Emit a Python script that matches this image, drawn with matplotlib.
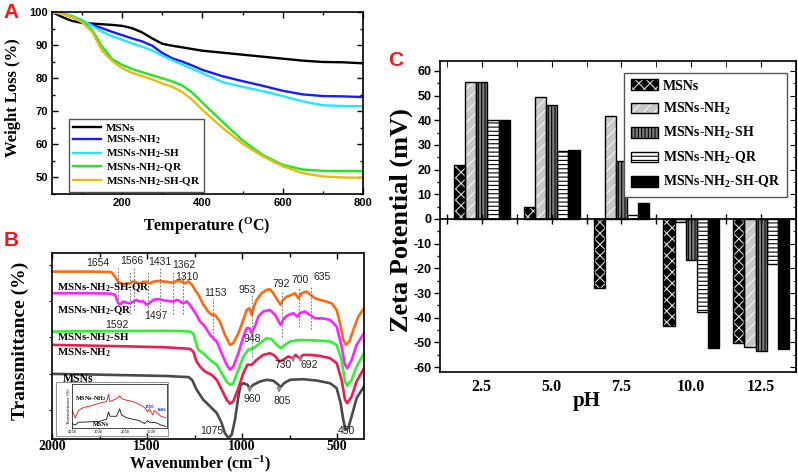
import numpy as np
import matplotlib
matplotlib.use("Agg")
import matplotlib.pyplot as plt
from matplotlib.patches import Patch, Rectangle
from matplotlib.ticker import MultipleLocator
from matplotlib.font_manager import FontProperties

plt.rcParams["mathtext.fontset"] = "custom"
plt.rcParams["mathtext.rm"] = "Liberation Serif:bold"
plt.rcParams["mathtext.it"] = "Liberation Serif:bold:italic"
plt.rcParams["mathtext.bf"] = "Liberation Serif:bold"
plt.rcParams["hatch.linewidth"] = 0.8
plt.rcParams["axes.unicode_minus"] = False

SERIF = "Liberation Serif"
SANS = "Liberation Sans"
LETTER_RED = "#f01818"

# ---------------- data ----------------
samples = ["MSNs", "MSNs-NH$_2$", "MSNs-NH$_2$-SH", "MSNs-NH$_2$-QR", "MSNs-NH$_2$-SH-QR"]

# A: TGA curves (temperature in C, weight %)
tga_temp = [25, 50, 75, 100, 125, 150, 175, 200, 225, 250, 275, 300, 325, 350,
            375, 400, 450, 500, 550, 600, 650, 700, 750, 800]
tga_msns = [100, 98.5, 97.3, 96.7, 96.5, 96.3, 96.1, 95.8, 95.1, 93.8, 92.0, 90.4,
            89.8, 89.3, 88.8, 88.3, 87.7, 87.1, 86.5, 85.9, 85.3, 84.9, 84.8, 84.5]
tga_nh2 = [100, 99.5, 98.5, 97.2, 96.1, 95.1, 94.0, 93.0, 92.0, 91.1, 89.8, 87.6,
           86.0, 85.0, 83.8, 82.5, 80.6, 79.1, 77.7, 76.2, 75.1, 74.6, 74.5, 74.3]
tga_sh = [100, 99.5, 98.7, 97.6, 95.8, 94.0, 92.7, 91.6, 90.5, 89.5, 88.4, 86.8,
          85.4, 84.1, 82.8, 81.5, 78.8, 77.4, 76.1, 74.6, 73.0, 71.8, 71.6, 71.5]
tga_qr = [100, 99.6, 98.8, 97.2, 94.6, 89.5, 85.8, 84.0, 82.8, 81.8, 80.9, 80.0,
          79.0, 77.8, 75.6, 72.6, 66.8, 61.2, 56.8, 53.8, 52.4, 52.0, 51.9, 51.9]
tga_shqr = [100, 99.4, 98.5, 96.9, 94.0, 88.3, 85.2, 83.0, 81.6, 80.6, 79.6, 78.4,
            77.4, 75.8, 73.4, 70.4, 65.0, 60.2, 56.4, 53.4, 51.3, 50.3, 50.0, 49.9]
tga_colors = ["#000000", "#1a1aff", "#22e8ff", "#22e622", "#e6bc10"]

# B: FTIR spectra (wavenumber cm-1, offset transmittance a.u.)
ftir_shqr_wn = [2000, 1800, 1700, 1686, 1665, 1650, 1633, 1625, 1610, 1589, 1575, 1563, 1550,
                1537, 1520, 1502, 1490, 1484, 1467, 1450, 1432, 1415, 1396, 1378, 1361, 1344,
                1330, 1318, 1300, 1282, 1265, 1247, 1230, 1204, 1177, 1160, 1142, 1116, 1090,
                1063, 1046, 1019, 993, 975, 961, 949, 937, 923, 897, 870, 853, 835, 814, 797,
                783, 765, 739, 721, 704, 686, 660, 639, 616, 590, 555, 528, 502, 484, 467,
                453, 435, 414, 388, 358]
ftir_shqr_t = [90.2, 90.2, 90.0, 89.8, 87.0, 84.5, 84.0, 83.2, 84.0, 84.0, 85.0, 84.9, 84.2,
               84.0, 84.8, 84.9, 84.2, 84.0, 84.9, 85.2, 85.3, 85.0, 84.9, 84.5, 84.4, 85.3,
               85.1, 84.9, 84.0, 85.0, 83.5, 80.5, 78.0, 72.9, 69.0, 67.4, 67.4, 63.9, 56.9,
               51.6, 52.5, 57.7, 64.8, 70.0, 70.9, 67.4, 71.8, 75.3, 78.8, 80.6, 80.9, 78.8,
               75.3, 72.7, 75.3, 77.0, 77.9, 78.8, 76.2, 78.8, 79.7, 77.9, 76.2, 75.3, 74.4,
               73.5, 70.0, 63.0, 54.2, 51.6, 53.4, 59.5, 66.5, 70.9]
ftir_qr_wn = [2000, 1800, 1690, 1668, 1651, 1640, 1625, 1600, 1589, 1575, 1555, 1540, 1520,
              1502, 1490, 1467, 1450, 1432, 1415, 1396, 1378, 1361, 1344, 1330, 1310, 1290,
              1274, 1239, 1221, 1195, 1168, 1151, 1133, 1107, 1081, 1063, 1046, 1019, 993,
              975, 961, 949, 932, 914, 888, 853, 826, 797, 779, 756, 730, 709, 695, 669, 642,
              616, 581, 537, 502, 476, 458, 446, 423, 397, 358]
ftir_qr_t = [78.8, 78.8, 78.6, 78.0, 73.5, 73.0, 74.4, 73.6, 73.5, 74.2, 75.3, 74.4, 74.6,
             72.7, 73.4, 75.3, 75.6, 75.6, 75.0, 74.9, 74.6, 74.4, 75.3, 74.8, 73.5, 74.5,
             72.7, 67.4, 63.9, 61.3, 56.9, 55.1, 53.4, 47.2, 41.1, 38.5, 40.2, 47.2, 56.0,
             60.4, 60.4, 57.7, 61.3, 66.5, 69.2, 70.0, 67.4, 62.1, 65.6, 67.4, 68.3, 66.5,
             68.3, 69.2, 67.4, 65.6, 65.6, 64.8, 61.3, 50.7, 41.1, 39.3, 43.7, 51.6, 57.7]
ftir_sh_wn = [2000, 1800, 1600, 1400, 1300, 1274, 1256, 1240, 1230, 1204, 1168, 1133, 1107,
              1081, 1063, 1046, 1019, 993, 967, 940, 905, 870, 844, 818, 797, 774, 747, 695,
              607, 537, 502, 476, 458, 446, 423, 397, 358]
ftir_sh_t = [58.6, 58.8, 58.9, 59.0, 58.8, 58.6, 57.5, 52.0, 49.0, 47.2, 43.7, 41.1, 36.7,
             32.3, 30.6, 31.4, 38.5, 45.5, 49.0, 49.9, 52.5, 55.1, 54.6, 51.6, 49.9, 51.6,
             53.4, 54.2, 53.9, 53.4, 51.6, 43.7, 32.3, 30.0, 33.2, 40.2, 47.2]
ftir_nh2_wn = [2000, 1800, 1600, 1400, 1274, 1256, 1240, 1221, 1195, 1160, 1133, 1107, 1081,
               1063, 1046, 1019, 993, 972, 949, 923, 888, 853, 826, 804, 783, 756, 734, 718,
               699, 678, 642, 590, 537, 502, 476, 458, 446, 423, 397, 358]
ftir_nh2_t = [51.6, 51.2, 50.8, 50.3, 49.5, 48.0, 43.0, 40.2, 37.6, 35.8, 33.2, 28.0, 22.7,
              20.6, 21.8, 28.8, 36.7, 41.1, 41.1, 43.7, 46.3, 47.2, 45.8, 42.8, 43.7, 45.5,
              44.6, 46.3, 44.6, 46.3, 46.3, 45.8, 44.6, 42.0, 33.2, 22.7, 20.9, 24.4, 32.3, 39.3]
ftir_msns_wn = [2000, 1800, 1600, 1400, 1280, 1262, 1239, 1204, 1168, 1133, 1107, 1090, 1072,
                1054, 1037, 1019, 1007, 993, 972, 958, 940, 905, 870, 835, 809, 797, 779, 747,
                678, 607, 537, 502, 481, 467, 455, 441, 423, 397, 358]
ftir_msns_t = [36.3, 36.0, 35.6, 35.2, 34.6, 33.0, 28.0, 22.7, 19.2, 15.7, 10.4, 5.1, 2.5,
               4.3, 12.1, 24.4, 30.6, 31.4, 30.6, 28.8, 30.6, 32.3, 33.2, 32.7, 30.6, 29.3,
               31.4, 33.2, 33.5, 32.8, 31.4, 28.8, 20.9, 12.1, 6.9, 7.8, 13.9, 23.5, 29.7]
ftir_colors = ["#4a4a4a", "#ee1c4c", "#33ee33", "#ff22ff", "#ff6a10"]

# band labels: (text, wavenumber, height)
ftir_labels = [("1654", 1758, 94.7), ("1566", 1579, 95.8), ("1431", 1432, 95.3),
               ("1362", 1305, 93.7), ("1310", 1290, 87.4), ("1592", 1658, 62.0),
               ("1497", 1455, 66.8), ("1153", 1142, 79.0), ("953", 974, 80.5),
               ("792", 795, 83.7), ("700", 695, 85.8), ("635", 579, 87.4),
               ("948", 947, 54.7), ("730", 784, 41.0), ("692", 647, 41.0),
               ("960", 947, 23.2), ("805", 789, 22.1), ("1075", 1158, 6.0), ("450", 453, 6.0)]
# dotted guide lines: (wavenumber, top, bottom)
ftir_guides = [(1654, 92, 72), (1592, 90, 68), (1566, 92, 70), (1497, 90, 68),
               (1431, 92, 70), (1362, 90, 68), (1310, 88, 68), (1153, 76, 54),
               (950, 78, 45), (792, 80, 56), (700, 82, 61), (635, 82, 60)]
# arrows: (wavenumber, from, to)
ftir_arrows = [(960, 29.7, 25.0), (805, 29.5, 24.8), (730, 45.5, 41.0), (692, 45.5, 41.0)]

# inset spectra (full range)
inset_wn = [4000, 3876, 3752, 3566, 3317, 2945, 2697, 2622, 2573, 2449, 2325, 2200, 2138,
            1952, 1704, 1456, 1270, 1146, 1084, 960, 897, 773, 649, 463]
inset_nh2 = [70, 45, 70, 80, 85, 95, 100, 125, 100, 105, 110, 120, 110, 105, 100, 90, 80,
             65, 75, 55, 70, 60, 50, 45]
inset_msns = [25, 20, 30, 30, 31, 33, 40, 65, 50, 50, 50, 75, 55, 45, 40, 35, 25, 35, 30,
              28, 29, 26, 20, 15]

# C: zeta potential (mV)
ph_labels = ["2.5", "5.0", "7.5", "10.0", "12.5"]
zeta_msns = [22.0, 4.7, -28.0, -43.5, -50.3]
zeta_nh2 = [55.5, 49.5, 41.7, -1.3, -51.8]
zeta_sh = [55.3, 46.0, 23.3, -16.5, -53.5]
zeta_qr = [40.0, 27.7, 1.8, -37.8, -18.2]
zeta_shqr = [40.0, 27.8, 6.5, -52.3, -52.5]
bar_faces = ["#000000", "#c8c8c8", "#808080", "#ffffff", "#000000"]
bar_hatch_colors = ["#d8d8d8", "#f4f4f4", "#000000", "#000000", "#000000"]
bar_hatches = ["xxx", "///", "|||||", "----", ""]

# ---------------- figure ----------------
W, H = 798, 474
fig = plt.figure(figsize=(W / 100, H / 100), dpi=100)


def px_axes(left, top, right, bottom):
    return fig.add_axes([left / W, 1 - bottom / H, (right - left) / W, (bottom - top) / H])


def set_tick_font(ax, family, size, axis="both"):
    labels = []
    if axis in ("both", "x"):
        labels += ax.get_xticklabels()
    if axis in ("both", "y"):
        labels += ax.get_yticklabels()
    for lab in labels:
        lab.set_fontfamily(family)
        lab.set_fontweight("bold")
        lab.set_fontsize(size)


def place_labels(ax, xpos, ypos, xva="center"):
    # axis labels placed on the given axes-fraction points
    ax.xaxis.set_label_coords(*xpos)
    ax.yaxis.set_label_coords(*ypos)
    ax.xaxis.label.set_ha("center")
    ax.xaxis.label.set_va(xva)
    ax.yaxis.label.set_ha("center")
    ax.yaxis.label.set_va("center")


def panel_letter(x, y, s):
    fig.text(x / W, 1 - y / H, s, color=LETTER_RED, fontsize=15, fontweight="bold",
             family=SANS, ha="center", va="center")


# ---- A ----
axA = px_axes(52, 12, 363, 194)
for name, vals, col in zip(samples, [tga_msns, tga_nh2, tga_sh, tga_qr, tga_shqr], tga_colors):
    axA.plot(tga_temp, vals, color=col, lw=1.7, label=name)
axA.set_xlim(25, 800)
axA.set_ylim(45, 100)
axA.set_xticks([200, 400, 600, 800])
axA.xaxis.set_minor_locator(MultipleLocator(100))
axA.set_yticks([50, 60, 70, 80, 90, 100])
axA.yaxis.set_minor_locator(MultipleLocator(5))
axA.tick_params(which="both", direction="in", top=True, right=True, width=1)
axA.tick_params(which="major", length=4, pad=3)
axA.tick_params(which="minor", length=2)
for sp in axA.spines.values():
    sp.set_linewidth(1.2)
set_tick_font(axA, SANS, 8)
axA.set_xlabel("Temperature ($^{\\rm O}$C)", family=SERIF, fontweight="bold", fontsize=11.5)
axA.set_ylabel("Weight Loss (%)", family=SERIF, fontweight="bold", fontsize=12)
place_labels(axA, (0.498, -0.176), (-0.126, 0.53))
axA.legend(loc="lower left", bbox_to_anchor=(0.055, 0.011), borderaxespad=0,
           prop=FontProperties(family=SERIF, weight="bold", size=8), fancybox=False,
           edgecolor="#555555", framealpha=1, handlelength=2.5, labelspacing=0.12,
           borderpad=0.35, handletextpad=0.45)
panel_letter(11, 12, "A")

# ---- B ----
axB = px_axes(52, 253, 364, 439)
for wn, tr, col in zip([ftir_msns_wn, ftir_nh2_wn, ftir_sh_wn, ftir_qr_wn, ftir_shqr_wn],
                       [ftir_msns_t, ftir_nh2_t, ftir_sh_t, ftir_qr_t, ftir_shqr_t], ftir_colors):
    axB.plot(wn, tr, color=col, lw=1.9, solid_joinstyle="round")
axB.set_xlim(2000, 358)
axB.set_ylim(2, 100)
axB.set_xticks([2000, 1500, 1000, 500])
axB.xaxis.set_minor_locator(MultipleLocator(250))
axB.set_yticks([17.5, 36.5, 55.5, 74.5, 93.5])
axB.set_yticklabels([])
axB.tick_params(axis="x", which="both", direction="in", top=True, width=1)
axB.tick_params(axis="x", which="major", length=4, pad=0.5)
axB.tick_params(axis="x", which="minor", length=3)
axB.tick_params(axis="y", direction="out", length=2, width=0.8)
for sp in axB.spines.values():
    sp.set_linewidth(1.2)
set_tick_font(axB, SERIF, 10, axis="x")
axB.set_xlabel("Wavenumber (cm$^{-1}$)", family=SERIF, fontweight="bold", fontsize=11.5)
axB.set_ylabel("Transmittance (%)", family=SERIF, fontweight="bold", fontsize=14)
place_labels(axB, (0.474, -0.188), (-0.1, 0.53), xva="bottom")

for wn, top, bot in ftir_guides:
    axB.plot([wn, wn], [bot, top], color="#777777", lw=0.8, ls=(0, (1.5, 1.5)))
for wn, y0, y1 in ftir_arrows:
    axB.annotate("", xy=(wn, y1), xytext=(wn, y0),
                 arrowprops=dict(arrowstyle="-|>", color="#8a8a8a", lw=1.2, mutation_scale=6))
for txt, wn, y in ftir_labels:
    axB.text(wn, y, txt, family=SANS, fontsize=7.5, color="#222222", ha="center", va="center")

name_font = dict(family=SERIF, fontweight="bold", fontsize=7.8, ha="left", va="center")
axB.text(1974, 81.6, samples[4], **name_font)
axB.text(1974, 69.5, samples[3], **name_font)
axB.text(1974, 55.3, samples[2], **name_font)
axB.text(1974, 47.2, samples[1], **name_font)
axB.text(1942, 33.7, samples[0], family=SERIF, fontweight="bold", fontsize=8.5,
         ha="left", va="center")

# inset
fig.patches.append(Rectangle((56 / W, 1 - 436 / H), 112 / W, 54 / H, transform=fig.transFigure,
                             fill=False, edgecolor="#999999", lw=0.8))
axI = px_axes(72, 384, 167, 428)
axI.plot(inset_wn, inset_nh2, color="#ee1010", lw=0.6)
axI.plot(inset_wn, inset_msns, color="#111111", lw=0.6)
axI.set_xlim(4000, 420)
axI.set_ylim(10, 160)
axI.set_xticks([4000, 3000, 2000, 1000])
axI.set_yticks([])
axI.tick_params(labelsize=2.5, length=1, width=0.4, pad=0.5)
for sp in axI.spines.values():
    sp.set_linewidth(0.5)
axI.set_ylabel("Transmittance (%)", fontsize=2.8, labelpad=1)
axI.text(3300, 112, "MSNs-NH$_2$", family=SERIF, fontweight="bold", fontsize=4.5,
         ha="center", va="center")
axI.text(2900, 22, "MSNs", family=SERIF, fontweight="bold", fontsize=4.5, ha="center", va="center")
axI.text(1084, 78, "1550", color="#2040ff", fontsize=2.5, fontweight="bold", ha="center")
axI.text(640, 68, "1486", color="#2040ff", fontsize=2.5, fontweight="bold", ha="center")
panel_letter(11, 240, "B")

# ---- C ----
axC = px_axes(440, 61, 796, 372)
x = np.arange(len(ph_labels))
bw = 0.16
handles = []
for i, (vals, face, hcol, hatch) in enumerate(zip([zeta_msns, zeta_nh2, zeta_sh, zeta_qr, zeta_shqr],
                                                  bar_faces, bar_hatch_colors, bar_hatches)):
    pos = x + (i - 2) * bw
    axC.bar(pos, vals, bw, color=face, edgecolor=hcol, hatch=hatch, lw=0, zorder=2)
    axC.bar(pos, vals, bw, fill=False, edgecolor="black", lw=1.0, zorder=3)
    handles.append((Patch(facecolor=face, edgecolor=hcol, hatch=hatch, lw=0),
                    Patch(fill=False, edgecolor="black", lw=1.0)))
axC.axhline(0, color="black", lw=1.2, zorder=4)
half_steps = np.arange(-0.5, len(ph_labels), 0.5)
axC.plot(half_steps, np.zeros_like(half_steps), ls="none", marker="|", ms=7, mew=1,
         color="black", zorder=4)
axC.set_xlim(-0.6, 4.5)
axC.set_ylim(-62, 64)
axC.set_xticks(x)
axC.set_xticklabels(ph_labels)
axC.xaxis.set_minor_locator(MultipleLocator(0.5))
axC.tick_params(axis="x", which="both", bottom=False, top=True, direction="in", length=4, pad=5)
axC.set_yticks(np.arange(-60, 61, 10))
axC.yaxis.set_minor_locator(MultipleLocator(5))
axC.tick_params(axis="y", which="both", direction="out", width=1, pad=2)
axC.tick_params(axis="y", which="major", length=4)
axC.tick_params(axis="y", which="minor", length=2)
axR = axC.secondary_yaxis("right")
axR.set_yticks(np.arange(-60, 61, 10))
axR.yaxis.set_minor_locator(MultipleLocator(5))
axR.tick_params(which="both", direction="in", labelright=False)
axR.tick_params(which="major", length=4)
axR.tick_params(which="minor", length=2)
for sp in axC.spines.values():
    sp.set_linewidth(1.2)
set_tick_font(axC, SERIF, 11.5, axis="x")
set_tick_font(axC, SANS, 9, axis="y")
axC.set_xlabel("pH", family=SERIF, fontweight="bold", fontsize=15)
axC.set_ylabel("Zeta Potential (mV)", family=SERIF, fontweight="bold", fontsize=19)
place_labels(axC, (0.413, -0.093), (-0.11, 0.49))
axC.legend(handles, samples, loc="upper right", bbox_to_anchor=(0.975, 0.961), borderaxespad=0,
           prop=FontProperties(family=SERIF, weight="bold", size=10), fancybox=False,
           edgecolor="#555555", framealpha=1, handlelength=2.0, handleheight=0.8,
           labelspacing=0.6, borderpad=0.45, handletextpad=0.35)
panel_letter(396, 60, "C")

fig.savefig("out.png", dpi=100)
